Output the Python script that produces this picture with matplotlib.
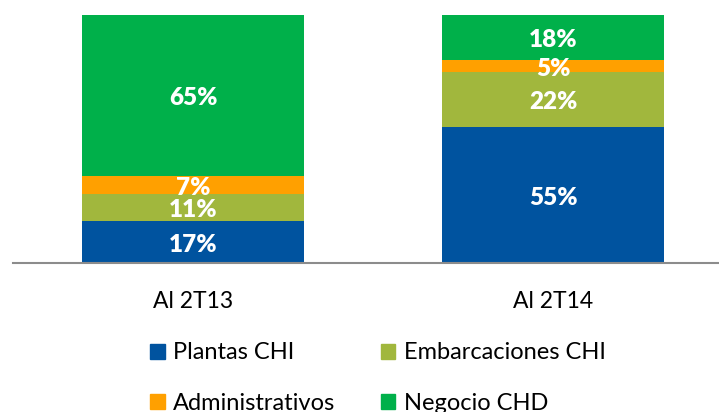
import matplotlib
matplotlib.use("Agg")
import matplotlib.pyplot as plt
from matplotlib.patches import Patch
import numpy as np

plt.rcParams["font.family"] = ["Lato", "DejaVu Sans"]

periods = ["Al 2T13", "Al 2T14"]
segments = ["Plantas CHI", "Embarcaciones CHI", "Administrativos", "Negocio CHD"]
plantas_chi = [17, 55]
embarcaciones_chi = [11, 22]
administrativos = [7, 5]
negocio_chd = [65, 18]
colors = ["#00539F", "#A1B73D", "#FFA000", "#00B04A"]

series = [plantas_chi, embarcaciones_chi, administrativos, negocio_chd]

fig = plt.figure(figsize=(7.19, 4.12), dpi=100)
ax = fig.add_axes([13 / 719, 149 / 412, 706 / 719, 248 / 412])

x = np.arange(len(periods))
bottom = np.zeros(len(periods))
for vals, col in zip(series, colors):
    vals = np.array(vals, dtype=float)
    ax.bar(x, vals, width=0.617, bottom=bottom, color=col, zorder=2)
    for xi, b, v in zip(x, bottom, vals):
        # labels sit a touch below the segment middle, as in the source
        ax.text(xi, b + v / 2 - 1.1, f"{v:.0f}%", ha="center", va="center",
                color="white", fontsize=17.5, fontweight="heavy", zorder=3)
    bottom += vals

ax.set_xlim(-0.5, 1.46)
ax.set_ylim(0, 100)
for s in ["top", "right", "left"]:
    ax.spines[s].set_visible(False)
ax.spines["bottom"].set_color("#8c8c8c")
ax.spines["bottom"].set_linewidth(1.5)
ax.set_yticks([])
ax.set_xticks(x)
ax.set_xticklabels(periods, fontsize=16.5, color="black")
ax.tick_params(axis="x", length=0, pad=20)

handles = [Patch(color=c) for c in colors]
order = [0, 2, 1, 3]
fig.legend([handles[i] for i in order], [segments[i] for i in order],
           ncol=2, frameon=False, fontsize=17, labelcolor="black",
           loc="upper left", bbox_to_anchor=(141 / 719, 1 - 333 / 412),
           handlelength=0.6, handleheight=0.6, handletextpad=0.35,
           columnspacing=1.95, labelspacing=1.25, borderaxespad=0)

fig.savefig("out.png", dpi=100)
